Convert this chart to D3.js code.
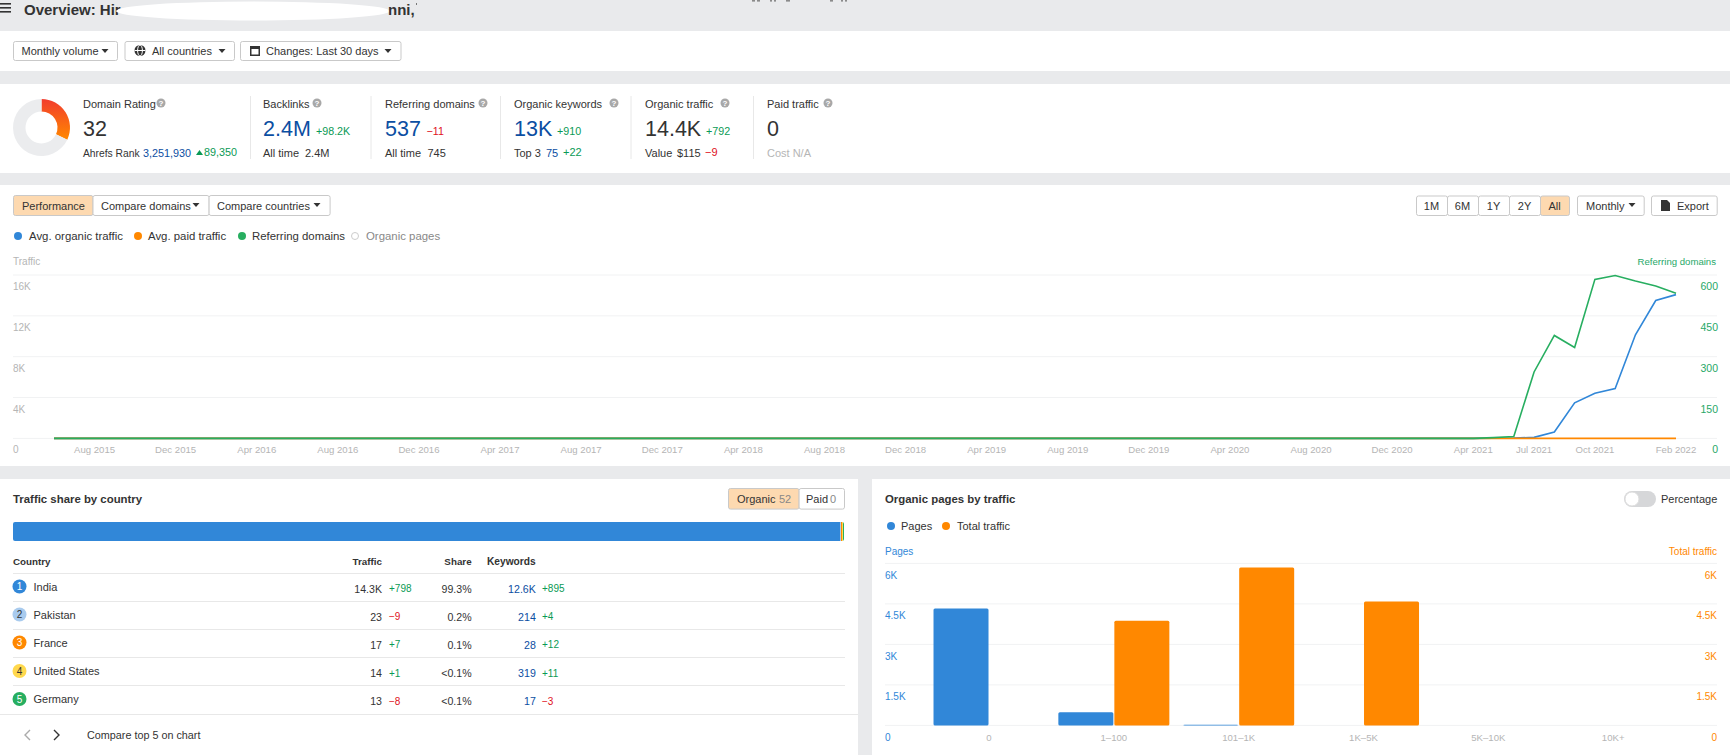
<!DOCTYPE html>
<html><head><meta charset="utf-8">
<script src="https://cdn.jsdelivr.net/npm/d3@7"></script>
<style>
html,body{margin:0;padding:0;background:#e9eaec;overflow:hidden}
svg{display:block;font-family:"Liberation Sans",Arial,sans-serif}
text{dominant-baseline:central}
</style></head><body><svg id="c" width="1730" height="755"></svg>
<script>
// ---------- data ----------
const months=["Jun 2015","Jul 2015","Aug 2015","Sep 2015","Oct 2015","Nov 2015","Dec 2015","Jan 2016","Feb 2016","Mar 2016","Apr 2016","May 2016","Jun 2016","Jul 2016","Aug 2016","Sep 2016","Oct 2016","Nov 2016","Dec 2016","Jan 2017","Feb 2017","Mar 2017","Apr 2017","May 2017","Jun 2017","Jul 2017","Aug 2017","Sep 2017","Oct 2017","Nov 2017","Dec 2017","Jan 2018","Feb 2018","Mar 2018","Apr 2018","May 2018","Jun 2018","Jul 2018","Aug 2018","Sep 2018","Oct 2018","Nov 2018","Dec 2018","Jan 2019","Feb 2019","Mar 2019","Apr 2019","May 2019","Jun 2019","Jul 2019","Aug 2019","Sep 2019","Oct 2019","Nov 2019","Dec 2019","Jan 2020","Feb 2020","Mar 2020","Apr 2020","May 2020","Jun 2020","Jul 2020","Aug 2020","Sep 2020","Oct 2020","Nov 2020","Dec 2020","Jan 2021","Feb 2021","Mar 2021","Apr 2021","May 2021","Jun 2021","Jul 2021","Aug 2021","Sep 2021","Oct 2021","Nov 2021","Dec 2021","Jan 2022","Feb 2022"];
const monthTicks=["Aug 2015","Dec 2015","Apr 2016","Aug 2016","Dec 2016","Apr 2017","Aug 2017","Dec 2017","Apr 2018","Aug 2018","Dec 2018","Apr 2019","Aug 2019","Dec 2019","Apr 2020","Aug 2020","Dec 2020","Apr 2021","Jul 2021","Oct 2021","Feb 2022"];
const organicTraffic=[0,0,0,0,0,0,0,0,0,0,0,0,0,0,0,0,0,0,0,0,0,0,0,0,0,0,0,0,0,0,0,0,0,0,0,0,0,0,0,0,0,0,0,0,0,0,0,0,0,0,0,0,0,0,0,0,0,0,0,0,0,0,0,0,0,0,0,0,0,0,0,10,30,100,620,3480,4420,4880,10150,13500,14080];
const paidTraffic=[0,0,0,0,0,0,0,0,0,0,0,0,0,0,0,0,0,0,0,0,0,0,0,0,0,0,0,0,0,0,0,0,0,0,0,0,0,0,0,0,0,0,0,0,0,0,0,0,0,0,0,0,0,0,0,0,0,0,0,0,0,0,0,0,0,0,0,0,0,0,0,0,0,0,0,0,0,0,0,0,0];
const referringDomains=[0,0,0,0,0,0,0,0,0,0,0,0,0,0,0,0,0,0,0,0,0,0,0,0,0,0,0,0,0,0,0,0,0,0,0,0,0,0,0,0,0,0,0,0,0,0,0,0,0,0,0,0,0,0,0,0,0,0,0,0,0,0,0,0,0,0,0,0,0,0,0,3,7,244,378,334,584,598,578,560,533];
const trafficTicks=[0,4000,8000,12000,16000];
const domainTicks=[0,150,300,450,600];
const countries=["India","Pakistan","France","United States","Germany"];
const countryTraffic=["14.3K","23","17","14","13"];
const countryTrafficDelta=["+798","−9","+7","+1","−8"];
const countryShareText=["99.3%","0.2%","0.1%","<0.1%","<0.1%"];
const countryKeywords=["12.6K","214","28","319","17"];
const countryKeywordsDelta=["+895","+4","+12","+11","−3"];
const countryColors=["#3187d8","#a9cbee","#ff8800","#ffd84d","#27ae60"];
const shareBar=[99.52,0.12,0.12,0.12,0.12];
const pageBuckets=["0","1–100","101–1K","1K–5K","5K–10K","10K+"];
const pagesCount=[4333,490,25,0,0,0];
const totalTraffic=[0,3874,5852,4593,0,0];
const pageTicks=[0,1500,3000,4500,6000];
const domainRating=32;

// ---------- helpers ----------
const BLUE="#3187d8",ORANGE="#ff8800",GREEN="#27ae60",NAVY="#0b4ea2",POS="#0a9a55",NEG="#e0101c",INK="#333",MUTE="#b5b5b5",GRID="#f1f2f3";
const svg=d3.select("#c");
const T=(x,y,s,o={})=>svg.append("text").attr("x",x).attr("y",y).text(s)
  .attr("font-size",o.size||11).attr("fill",o.fill||INK).attr("text-anchor",o.anchor||"start")
  .attr("font-weight",o.weight||"normal").attr("letter-spacing",o.ls||null);
const R=(x,y,w,h,f,o={})=>svg.append("rect").attr("x",x).attr("y",y).attr("width",w).attr("height",h).attr("fill",f)
  .attr("stroke",o.stroke||null).attr("rx",o.rx||null);
const L=(x1,y1,x2,y2,c)=>svg.append("line").attr("x1",x1).attr("y1",y1).attr("x2",x2).attr("y2",y2).attr("stroke",c||"#e8e8e8");
const caret=(x,y,c)=>svg.append("path").attr("d",`M${x-3.5},${y-2}h7l-3.5,4z`).attr("fill",c||"#333");
const btn=(x0,x1,y0,y1,f)=>R(x0+.5,y0+.5,x1-x0,y1-y0,f||"#fff",{stroke:"#c9c9c9",rx:2});

// panels
R(0,0,1730,755,"#e9eaec");
R(0,31,1730,40,"#fff");R(0,84,1730,89,"#fff");R(0,185,1730,281,"#fff");
R(0,479,858,276,"#fff");R(872,479,858,276,"#fff");

// header
[4,8,12].forEach(y=>R(0,y-1,11,1.6,"#333"));
T(24,9.5,"Overview: Hir",{size:15,weight:"bold"});
svg.append("ellipse").attr("cx",253).attr("cy",11).attr("rx",137).attr("ry",9.5).attr("fill","#fff");
T(388,9.5,"nni,",{size:15,weight:"bold"});
R(416,3,1,2,"#777");
[[752,3],[757,3],[770,2],[774,2],[786,4],[830,3],[841,2],[845,2]].forEach(d=>R(d[0],0,d[1],1.6,"#8a8a8a"));

// filter buttons
btn(13,117,41,60);btn(124.5,234,41,60);btn(240,400.5,41,60);
T(21.5,51,"Monthly volume");caret(105,51);
svg.append("circle").attr("cx",140).attr("cy",50.5).attr("r",5.5).attr("fill","#333");
svg.append("ellipse").attr("cx",140).attr("cy",50.5).attr("rx",2.4).attr("ry",5.5).attr("fill","none").attr("stroke","#fff");
L(134.5,50.5,145.5,50.5,"#fff");
T(152,51,"All countries");caret(222,51);
R(250,46,10,10,"#333");R(251.5,49,7,5.5,"#fff");
T(266,51,"Changes: Last 30 days");caret(388,51);

// donut
const defs=svg.append("defs");
const grad=defs.append("linearGradient").attr("id","dr").attr("x1",0).attr("y1",0).attr("x2",0).attr("y2",1);
grad.append("stop").attr("offset","0%").attr("stop-color","#f23c2e");
grad.append("stop").attr("offset","100%").attr("stop-color","#ff8800");
defs.append("clipPath").attr("id","barclip").append("rect").attr("x",13).attr("y",522).attr("width",831).attr("height",19).attr("rx",2);
const pie=d3.pie().sort(null)([domainRating,100-domainRating]);
const arc=d3.arc().innerRadius(16).outerRadius(28.5);
svg.append("g").attr("transform","translate(41.5,127.5)").selectAll("path").data(pie).join("path")
  .attr("d",arc).attr("fill",(d,i)=>i?"#ebecee":"url(#dr)");

// stats
const statLabels=["Domain Rating","Backlinks","Referring domains","Organic keywords","Organic traffic","Paid traffic"];
const statX=[83,263,385,514,645,767];
const helpX=[161,317,483,614,725,828];
const statBig=["32","2.4M","537","13K","14.4K","0"];
const statBigColor=[INK,NAVY,NAVY,NAVY,INK,INK];
const statDelta=["","+98.2K","−11","+910","+792",""];
const statDeltaX=[0,316,426.5,557,706,0];
statLabels.forEach((s,i)=>{
  T(statX[i],104,s,{size:11});
  svg.append("circle").attr("cx",helpX[i]).attr("cy",103).attr("r",4.5).attr("fill","#a8a8a8");
  T(helpX[i],103,"?",{size:8,fill:"#fff",anchor:"middle",weight:"bold"});
  T(statX[i],129,statBig[i],{size:21.5,fill:statBigColor[i]});
  if(statDelta[i])T(statDeltaX[i],131,statDelta[i],{size:10.7,fill:statDelta[i][0]=="+"?POS:NEG});
});
[250.5,371,500.5,631,753.5].forEach(x=>L(x,96,x,159));
T(83,153,"Ahrefs Rank",{size:10.3});T(143,153,"3,251,930",{size:10.8,fill:NAVY});
svg.append("path").attr("d","M196,155l3.5,-5l3.5,5z").attr("fill",POS);T(204,152,"89,350",{size:10.8,fill:POS});
T(263,153,"All time",{size:11});T(305,153,"2.4M",{size:11});
T(385,153,"All time",{size:11});T(427.5,153,"745",{size:11});
T(514,153,"Top 3",{size:11});T(546,153,"75",{size:11,fill:NAVY});T(563,152,"+22",{size:11,fill:POS});
T(645,153,"Value",{size:11});T(677,153,"$115",{size:11});T(705,152,"−9",{size:11,fill:NEG});
T(767,153,"Cost N/A",{size:11,fill:MUTE});

// performance toolbar
btn(13,92.5,195,215,"#fdd9b0");btn(92.5,208.6,195,215);btn(208.6,329.6,195,215);
T(22,206,"Performance");T(101,206,"Compare domains");caret(196,205);T(217,206,"Compare countries");caret(317,205);
[[1416,1447,"1M"],[1447,1478,"6M"],[1478,1509,"1Y"],[1509,1540,"2Y"]].forEach(b=>{btn(b[0],b[1],195.5,215);T((b[0]+b[1])/2,206,b[2],{anchor:"middle"});});
btn(1540,1569,195.5,215,"#fdd9b0");T(1554.5,206,"All",{anchor:"middle"});
btn(1577,1643.7,195.5,215);T(1586,206,"Monthly");caret(1632,205);
btn(1651,1716.7,195.5,215);
svg.append("path").attr("d","M1661,200h6l3,3v8h-9z").attr("fill","#333");
T(1677,206,"Export");

// legend
[[18,29,"Avg. organic traffic",BLUE],[138,148,"Avg. paid traffic",ORANGE],[242,252,"Referring domains",GREEN]].forEach(d=>{
  svg.append("circle").attr("cx",d[0]).attr("cy",236).attr("r",4).attr("fill",d[3]);T(d[1],236,d[2],{size:11.4});
});
svg.append("circle").attr("cx",355).attr("cy",236).attr("r",3.5).attr("fill","#fff").attr("stroke","#ccc");
T(366,236,"Organic pages",{size:11.4,fill:"#888"});

// performance chart
const x=d3.scalePoint().domain(months).range([54,1676]);
const yT=d3.scaleLinear().domain([0,16000]).range([438.4,275]);
const yD=d3.scaleLinear().domain([0,600]).range([438.4,275]);
const gridG=svg.append("g");
trafficTicks.forEach(t=>{gridG.append("line").attr("x1",13).attr("x2",1717).attr("y1",yT(t)).attr("y2",yT(t)).attr("stroke",GRID);});
T(13,261,"Traffic",{size:10,fill:MUTE});
T(1716,261,"Referring domains",{size:9.6,fill:"#27a868",anchor:"end"});
const kfmt=v=>v==0?"0":(v/1000)+"K";
trafficTicks.forEach(t=>{ if(t) T(13,yT(t)+11.5,kfmt(t),{size:10,fill:MUTE}); });
T(13,449,"0",{size:10,fill:MUTE});
domainTicks.forEach(t=>{ T(1718,t?yD(t)+11:449,t,{size:10.5,fill:"#27a868",anchor:"end"}); });
monthTicks.forEach(m=>T(x(m),449,m,{size:9.6,fill:MUTE,anchor:"middle"}));
const line=(s,y)=>d3.line().x((d,i)=>x(months[i])).y(d=>y(d))(s);
const draw=(s,y,c)=>svg.append("path").attr("d",line(s,y)).attr("fill","none").attr("stroke",c).attr("stroke-width",1.6);
draw(organicTraffic,yT,BLUE);draw(paidTraffic,yT,ORANGE);draw(referringDomains,yD,GREEN);

// country panel
T(13,499,"Traffic share by country",{size:11.4,weight:"bold"});
btn(728,798.6,488,508.6,"#fdd9b0");btn(798.6,844,488,508.6);
T(737,499,"Organic");T(779,499,"52",{fill:"#888"});T(806,499,"Paid");T(830,499,"0",{fill:"#888"});
const sx=d3.scaleLinear().domain([0,d3.sum(shareBar)]).range([13,844]);
const barG=svg.append("g").attr("clip-path","url(#barclip)");
let acc=0;shareBar.forEach((v,i)=>{barG.append("rect").attr("x",sx(acc)).attr("y",522).attr("width",sx(acc+v)-sx(acc)).attr("height",19).attr("fill",countryColors[i]);acc+=v;});
T(13,561,"Country",{size:9.8,weight:"bold"});T(382,561,"Traffic",{size:9.8,weight:"bold",anchor:"end"});
T(471.6,561,"Share",{size:9.8,weight:"bold",anchor:"end"});T(487,561,"Keywords",{size:10.2,weight:"bold"});
const rowLines=[573.5,601.5,629.5,657.5,685.5],rowY=[586.5,614.5,642.5,671,699];
countries.forEach((c,i)=>{
  L(13,rowLines[i],845,rowLines[i]);
  const y=rowY[i];
  svg.append("circle").attr("cx",19.5).attr("cy",y).attr("r",7).attr("fill",countryColors[i]);
  T(19.5,y,i+1,{size:10,anchor:"middle",fill:(i==1||i==3)?"#333":"#fff"});
  T(33.5,y,c,{size:11});
  T(382,y+2,countryTraffic[i],{size:10.6,anchor:"end"});
  T(389,y+2,countryTrafficDelta[i],{size:10,fill:countryTrafficDelta[i][0]=="+"?POS:NEG});
  T(471.6,y+2,countryShareText[i],{size:10.6,anchor:"end"});
  T(535.8,y+2,countryKeywords[i],{size:10.6,anchor:"end",fill:NAVY});
  T(542,y+2,countryKeywordsDelta[i],{size:10,fill:countryKeywordsDelta[i][0]=="+"?POS:NEG});
});
L(0,714.5,858,714.5);
svg.append("path").attr("d","M30,730l-5,5l5,5").attr("fill","none").attr("stroke","#aaa").attr("stroke-width",1.4);
svg.append("path").attr("d","M54,730l5,5l-5,5").attr("fill","none").attr("stroke","#333").attr("stroke-width",1.4);
T(87,735,"Compare top 5 on chart",{size:10.8});

// pages panel
T(885,499,"Organic pages by traffic",{size:11.4,weight:"bold"});
R(1624,491,32,16,"#d6d7d9",{rx:8});svg.append("circle").attr("cx",1632).attr("cy",499).attr("r",7).attr("fill","#fff").attr("stroke","#ddd");
T(1661,499,"Percentage",{size:11});
svg.append("circle").attr("cx",891).attr("cy",526).attr("r",4).attr("fill",BLUE);T(901,526,"Pages",{size:11});
svg.append("circle").attr("cx",946).attr("cy",526).attr("r",4).attr("fill",ORANGE);T(957,526,"Total traffic",{size:11});
T(885,551,"Pages",{size:10,fill:BLUE});T(1717,551,"Total traffic",{size:10,fill:ORANGE,anchor:"end"});
const yP=d3.scaleLinear().domain([0,6000]).range([725.4,563.4]);
pageTicks.forEach(t=>{
  L(885,yP(t),1717,yP(t),GRID);
  const lab=t==0?"0":(t/1000)+"K";
  T(885,t?yP(t)+12:737,lab,{size:10,fill:BLUE});
  T(1717,t?yP(t)+12:737,lab,{size:10,fill:ORANGE,anchor:"end"});
});
const bx=d3.scaleBand().domain(pageBuckets).range([926.6,1675.6]);
pageBuckets.forEach(b=>T(bx(b)+bx.bandwidth()/2,737,b,{size:9.6,fill:MUTE,anchor:"middle"}));
const bw=55;
svg.append("g").selectAll("rect").data(pagesCount).join("rect")
  .attr("x",(d,i)=>bx(pageBuckets[i])+bx.bandwidth()/2-bw-.5).attr("width",bw).attr("y",d=>yP(d)).attr("height",d=>yP(0)-yP(d)).attr("rx",1.5).attr("fill",BLUE);
svg.append("g").selectAll("rect").data(totalTraffic).join("rect")
  .attr("x",(d,i)=>bx(pageBuckets[i])+bx.bandwidth()/2+.5).attr("width",bw).attr("y",d=>yP(d)).attr("height",d=>yP(0)-yP(d)).attr("rx",1.5).attr("fill",ORANGE);
</script></body></html>
